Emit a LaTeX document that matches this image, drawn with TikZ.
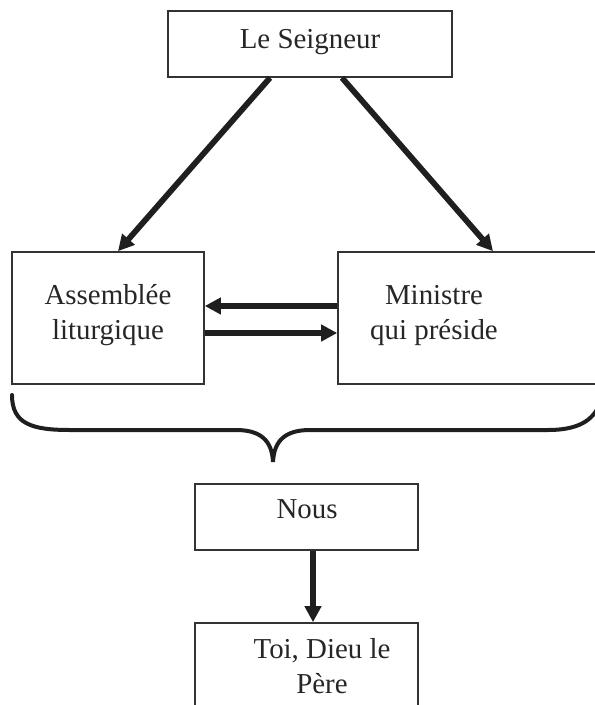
\documentclass[tikz,border=0pt]{standalone}
\usepackage{fontspec}
\setmainfont{Liberation Serif}
\usetikzlibrary{arrows.meta,calc}

\tikzset{
  box/.style={draw=black!80, line width=1.6bp, inner sep=0pt, minimum width=#1},
  lbl/.style={anchor=base, inner sep=0pt, font=\fontsize{29}{35}\selectfont, text=black!85},
  link/.style={line width=5.8bp, draw=black!88,
    -{Triangle[length=16bp,width=16bp]}},
  brace/.style={line width=4bp, draw=black!88, line cap=round}
}

\begin{document}
\begin{tikzpicture}[x=1bp, y=-1bp]
  \clip (0,0) rectangle (595,705);
  \useasboundingbox (0,0) rectangle (595,705);

  % boxes
  \node[box=284bp, minimum height=66bp]  (seig) at (310,44)    {};
  \node[box=192bp, minimum height=132bp] (asm)  at (108,318)   {};
  \node[box=302bp, minimum height=132bp] (min)  at (489,318)   {};
  \node[box=223bp, minimum height=66bp]  (nous) at (306.5,517) {};
  \node[box=223bp, minimum height=132bp] (toi)  at (306.5,689) {};

  % texts
  \node[lbl] (tseig) at (310,49)  {Le Seigneur};
  \node[lbl] (tasm1) at (108,304) {Assemblée};
  \node[lbl] (tasm2) at (108,339) {liturgique};
  \node[lbl] (tmin1) at (434,304) {Ministre};
  \node[lbl] (tmin2) at (434,339) {qui préside};
  \node[lbl] (tnous) at (307,518) {Nous};
  \node[lbl] (ttoi1) at (322,658) {Toi, Dieu le};
  \node[lbl] (ttoi2) at (322,693) {Père};

  % connectors
  \draw[link] ([xshift=-40bp]seig.south) -- ([xshift=10bp]asm.north);
  \draw[link] ([xshift=32bp]seig.south)  -- ([xshift=4bp]min.north);
  \draw[link] ([yshift=12bp]min.west)  -- ([yshift=12bp]asm.east);
  \draw[link] ([yshift=-15bp]asm.east) -- ([yshift=-15bp]min.west);
  \draw[link] ([xshift=6.5bp]nous.south) -- ([xshift=6.5bp]toi.north);

  % brace under the two boxes
  \coordinate (btip) at (273,462);
  \draw[brace] (12,395) .. controls (12,424) and (32,430) .. (70,430)
    -- (236,430) .. controls (260,430) and (272,440) .. (btip)
    .. controls (274,440) and (286,430) .. (310,430)
    -- (548,430) .. controls (582,430) and (596,418) .. (602,398);
\end{tikzpicture}
\end{document}
